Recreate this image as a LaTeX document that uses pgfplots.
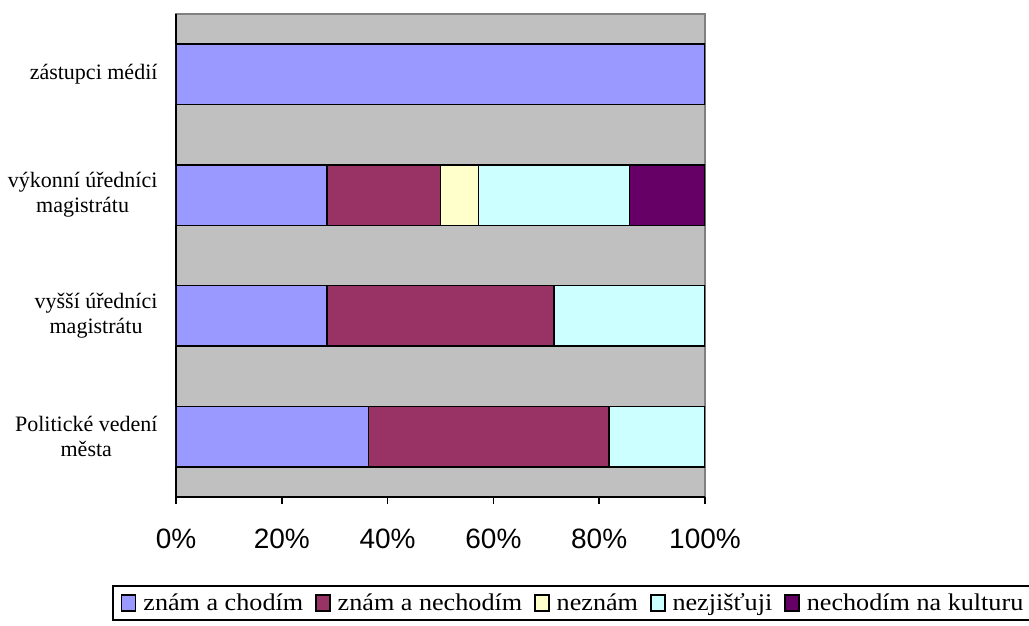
\documentclass[border=0pt]{standalone}
\usepackage{fontspec}
\setmainfont{Liberation Serif}
\setsansfont{Liberation Sans}
\newfontfamily\legendfont[FakeStretch=1.09]{Liberation Serif}
\usepackage{pgfplots}
\pgfplotsset{compat=1.18}

\definecolor{bgray}{HTML}{C0C0C0}
\definecolor{cA}{HTML}{9999FF}
\definecolor{cB}{HTML}{993366}
\definecolor{cC}{HTML}{FFFFCC}
\definecolor{cD}{HTML}{CCFFFF}
\definecolor{cE}{HTML}{660066}

\begin{document}
\begin{tikzpicture}[x=1pt,y=1pt]
\begin{axis}[
  at={(0,0)}, anchor=south west,
  scale only axis, width=529pt, height=483pt,
  xbar stacked, bar width=0.5,
  xmin=0, xmax=100, ymin=-0.5, ymax=3.5,
  axis background/.style={fill=bgray, draw=gray, line width=1.2pt},
  axis x line*=bottom, axis y line*=left,
  axis line style={-, black, line width=1.5pt},
  xtick={0,20,40,60,80,100},
  xticklabel={\pgfmathprintnumber{\tick}\%},
  /pgf/number format/assume math mode=true,
  xticklabel style={font=\fontsize{28}{32}\selectfont\sffamily, yshift=-21pt},
  ytick={0,1,2,3},
  yticklabels={{Politické vedení\\města},{vyšší úředníci\\magistrátu},{výkonní úředníci\\magistrátu},{zástupci médií}},
  yticklabel style={align=center, font=\fontsize{22}{25}\selectfont, xshift=-8pt},
  minor ytick={-0.5,0.5,1.5,2.5,3.5},
  tick align=outside,
  major tick length=7pt, minor tick length=7pt,
  every tick/.style={black, line width=1.5pt},
  ytick style={draw=none},
  minor y tick style={black, line width=1.5pt},
  legend columns=5,
  legend style={at={(-0.121,-0.182)}, anchor=north west, draw=black, line width=1.8pt,
    font=\fontsize{24}{27}\legendfont, inner xsep=8pt, inner ysep=5pt,
    nodes={inner xsep=1pt, inner ysep=3pt},
    /tikz/every odd column/.append style={column sep=6pt},
    /tikz/every even column/.append style={column sep=11pt}},
  legend image code/.code={\draw[#1, line width=1.5pt] (0pt,-8pt) rectangle (14pt,8pt);},
  every axis plot/.append style={draw=black, line width=1.5pt},
]
\addplot[fill=cA] coordinates {(36.364,0) (28.571,1) (28.571,2) (100,3)};
\addplot[fill=cB] coordinates {(45.455,0) (42.857,1) (21.429,2) (0,3)};
\addplot[fill=cC] coordinates {(0,0) (0,1) (7.143,2) (0,3)};
\addplot[fill=cD] coordinates {(18.182,0) (28.571,1) (28.571,2) (0,3)};
\addplot[fill=cE] coordinates {(0,0) (0,1) (14.286,2) (0,3)};
\legend{znám a chodím, znám a nechodím, neznám, nezjišťuji, nechodím na kulturu}
\end{axis}
\pgfresetboundingbox
\useasboundingbox (-176,497) rectangle (853,-128);
\end{tikzpicture}
\end{document}
